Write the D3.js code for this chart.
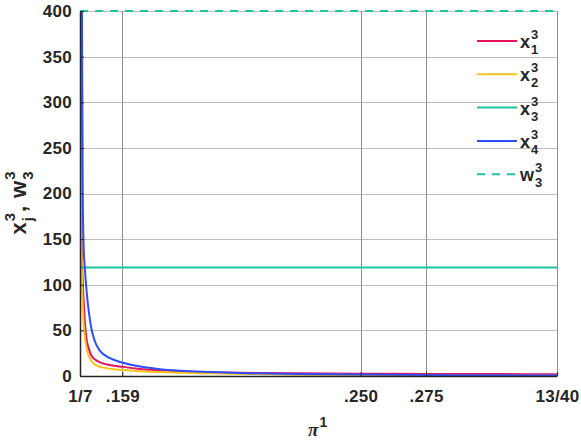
<!DOCTYPE html>
<html>
<head>
<meta charset="utf-8">
<script src="https://cdn.jsdelivr.net/npm/d3@7"></script>
<style>
  body { margin: 0; background: #fff; }
  text { font-family: "Liberation Sans", Arial, sans-serif; font-weight: bold; fill: #262626; }
</style>
</head>
<body>
<svg id="chart" width="581" height="443"></svg>
<script>
const piValues = [0.1429, 0.1431, 0.1434, 0.1436, 0.1439, 0.1442, 0.1446, 0.1450, 0.1455, 0.1462,
  0.1472, 0.1486, 0.1505, 0.1543, 0.1593, 0.1658, 0.1726, 0.1810, 0.1925, 0.2040,
  0.2269, 0.2500, 0.2750, 0.3000, 0.3250];

// series values (null = above the plot)
const x1Values = [null, 400, 180, 130, 103, 85, 64, 49, 38, 30,
  22.5, 18, 15, 12, 10, 7.8, 6.2, 5, 4.1, 3.5,
  3, 2.6, 2.3, 2.1, 2];
const x2Values = [400, 260, 150, 105, 78, 60, 46, 37, 29, 22,
  16.5, 12.5, 10, 8, 6.5, 5.3, 4.5, 3.6, 2.9, 2.3,
  1.5, 1, 0.7, 0.5, 0.3];
const x3Values = piValues.map(() => 119);
const x4Values = [null, null, null, 400, 203, 147, 122, 106, 89, 71,
  52, 37.5, 27.5, 19.5, 14.5, 10.3, 7.8, 5.8, 4.3, 3.2,
  2.3, 1.6, 1.1, 0.8, 0.5];
const w3Values = piValues.map(() => 400);

// tick labels
const xTicks = [1 / 7, 0.159, 0.25, 0.275, 13 / 40];
const xTickLabels = ["1/7", ".159", ".250", ".275", "13/40"];
const yTicks = [0, 50, 100, 150, 200, 250, 300, 350, 400];

const series = [
  { base: "x", sub: "1", color: "#e5135e", values: x1Values, dash: null },
  { base: "x", sub: "2", color: "#f8c21c", values: x2Values, dash: null },
  { base: "x", sub: "3", color: "#1ec4a0", values: x3Values, dash: null },
  { base: "x", sub: "4", color: "#2f4cff", values: x4Values, dash: null },
  { base: "w", sub: "3", color: "#1ec4a0", values: w3Values, dash: "8,7" }
];

const margin = { top: 11, right: 24, bottom: 67, left: 80 };
const width = 581 - margin.left - margin.right;
const height = 443 - margin.top - margin.bottom;

const svg = d3.select("#chart");
const g = svg.append("g").attr("transform", `translate(${margin.left},${margin.top})`);

const xScale = d3.scaleLinear().domain([1 / 7, 13 / 40]).range([0, width]);
const yScale = d3.scaleLinear().domain([0, 400]).range([height, 0]);

// grid
g.selectAll(".hgrid").data(yTicks).enter().append("line")
  .attr("x1", 0).attr("x2", width)
  .attr("y1", d => Math.round(yScale(d)) + 0.5).attr("y2", d => Math.round(yScale(d)) + 0.5)
  .attr("stroke", "#bdbdbd").attr("stroke-width", 1);
g.selectAll(".vgrid").data(xTicks).enter().append("line")
  .attr("x1", d => Math.round(xScale(d)) + 0.5).attr("x2", d => Math.round(xScale(d)) + 0.5)
  .attr("y1", 0).attr("y2", height)
  .attr("stroke", "#8e8e8e").attr("stroke-width", 1);

// clip
svg.append("defs").append("clipPath").attr("id", "plot-clip")
  .append("rect").attr("x", 0).attr("y", -2).attr("width", width).attr("height", height + 4);

const line = d3.line()
  .defined(d => d[1] !== null)
  .x(d => xScale(d[0]))
  .y(d => yScale(d[1]))
  .curve(d3.curveMonotoneX);

const plot = g.append("g").attr("clip-path", "url(#plot-clip)");
series.forEach(s => {
  plot.append("path")
    .datum(piValues.map((p, i) => [p, s.values[i]]))
    .attr("fill", "none")
    .attr("stroke", s.color)
    .attr("stroke-width", 2)
    .attr("stroke-dasharray", s.dash)
    .attr("d", line);
});

// axes
const xAxis = g.append("g").attr("transform", `translate(0,${height})`)
  .call(d3.axisBottom(xScale).tickValues(xTicks).tickFormat((d, i) => xTickLabels[i]).tickSizeInner(-4).tickSizeOuter(0).tickPadding(14));
const yAxis = g.append("g")
  .call(d3.axisLeft(yScale).tickValues(yTicks).tickSizeInner(-4).tickSizeOuter(0).tickPadding(8));
[xAxis, yAxis].forEach(a => {
  a.select(".domain").attr("stroke", "#262626").attr("stroke-width", 1.5);
  a.selectAll(".tick line").attr("stroke", "#262626");
  a.selectAll(".tick text").attr("font-size", 17).attr("fill", "#262626")
    .attr("font-family", "Liberation Sans, Arial, sans-serif").attr("font-weight", "bold")
    .attr("letter-spacing", "0.3px");
});

// x axis label: pi^1
const xl = svg.append("text").attr("x", 308).attr("y", 436);
xl.append("tspan").text("π").attr("font-family", "Liberation Serif, serif").attr("font-style", "italic")
  .attr("font-size", 19).attr("font-weight", "bold");
xl.append("tspan").text("1").attr("font-size", 14).attr("dy", -9).attr("dx", 1);

// label text with stacked super/subscripts
function scripted(parent, x, base, sup, sub, size, ssize) {
  const b = parent.append("text").attr("x", x).attr("y", 0).attr("font-size", size).text(base);
  const bw = b.node().getComputedTextLength();
  const sp = parent.append("text").attr("x", x + bw + 1).attr("y", -size * 0.5).attr("font-size", ssize).text(sup);
  const sb = parent.append("text").attr("x", x + bw + 1).attr("y", size * 0.33).attr("font-size", ssize).text(sub);
  return x + bw + 1 + Math.max(sp.node().getComputedTextLength(), sb.node().getComputedTextLength());
}

// y axis label
const yl = svg.append("g").attr("transform", "translate(26,203) rotate(-90)");
let cx = scripted(yl, 0, "x", "3", "j", 22, 15);
const comma = yl.append("text").attr("x", cx + 1).attr("y", 0).attr("font-size", 22).text(",");
cx += comma.node().getComputedTextLength() + 9;
cx = scripted(yl, cx, "w", "3", "3", 22, 15);
yl.selectAll("text").attr("transform", `translate(${-cx / 2},0)`);

// legend
const legend = svg.append("g").attr("transform", "translate(477,41)");
series.forEach((s, i) => {
  const row = legend.append("g").attr("transform", `translate(0,${i * 33.3})`);
  row.append("line").attr("x1", 0).attr("x2", 40).attr("y1", 0).attr("y2", 0)
    .attr("stroke", s.color).attr("stroke-width", 2).attr("stroke-dasharray", s.dash);
  scripted(row, 43, s.base, "3", s.sub, 18, 13);
  row.selectAll("text").attr("transform", "translate(0,7)");
});
</script>
</body>
</html>
